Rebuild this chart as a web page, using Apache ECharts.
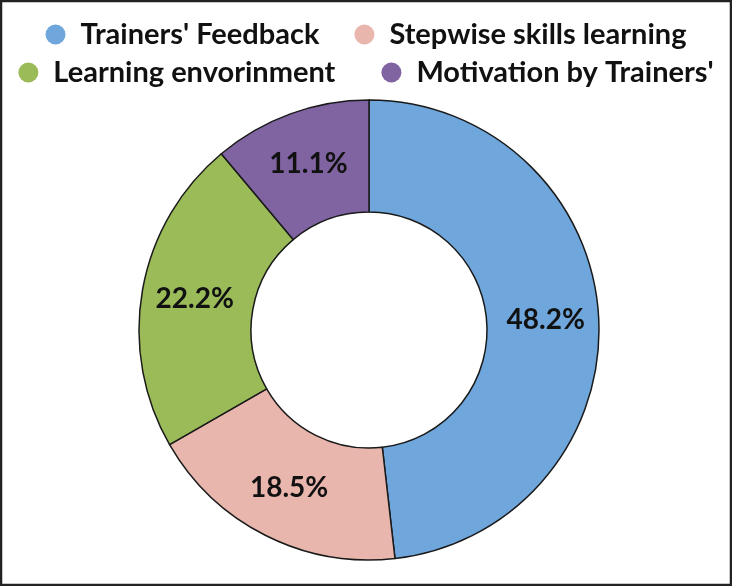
<!DOCTYPE html>
<html>
<head>
<meta charset="utf-8">
<script src="https://cdn.jsdelivr.net/npm/echarts@6/dist/echarts.min.js"></script>
<style>
html,body{margin:0;padding:0;background:#fff;}
#chart{width:732px;height:586px;}
</style>
</head>
<body>
<div id="chart"></div>
<script>
const categories = ["Trainers' Feedback", "Stepwise skills learning", "Learning envorinment", "Motivation by Trainers'"];
const values = [48.2, 18.5, 22.2, 11.1];
const colors = ['#6fa6db', '#e8b6ad', '#9bbb59', '#8064a2'];
const legendRow1 = [categories[0], categories[1]];
const legendRow2 = [categories[2], categories[3]];

const chart = echarts.init(document.getElementById('chart'));
const legendBase = {
  left: 'center',
  padding: 0,
  icon: 'circle',
  itemWidth: 20,
  itemHeight: 20,
  itemStyle: { borderWidth: 0 },
  textStyle: { fontFamily: 'Lato', fontWeight: 'bold', fontSize: 29, color: '#111', padding: [0, 0, 0, 10] },
  selectedMode: false
};
chart.setOption({
  animation: false,
  graphic: [{
    type: 'rect',
    shape: { x: 1, y: 1, width: 730, height: 584 },
    style: { fill: 'none', stroke: '#222', lineWidth: 2.5 },
    silent: true
  }],
  legend: [
    Object.assign({}, legendBase, { top: 20, itemGap: 35, data: legendRow1 }),
    Object.assign({}, legendBase, { top: 58, itemGap: 46, data: legendRow2 })
  ],
  series: [{
    type: 'pie',
    center: [369, 330],
    radius: [118, 230],
    startAngle: 90,
    clockwise: true,
    color: colors,
    itemStyle: { borderColor: '#1a1a1a', borderWidth: 1.5 },
    label: {
      show: true,
      position: 'inside',
      formatter: p => p.value.toFixed(1) + '%',
      fontFamily: 'Lato',
      fontWeight: 'bold',
      fontSize: 28,
      color: '#111'
    },
    labelLine: { show: false },
    emphasis: { disabled: true },
    data: categories.map((c, i) => ({ name: c, value: values[i] }))
  }]
});
</script>
</body>
</html>
